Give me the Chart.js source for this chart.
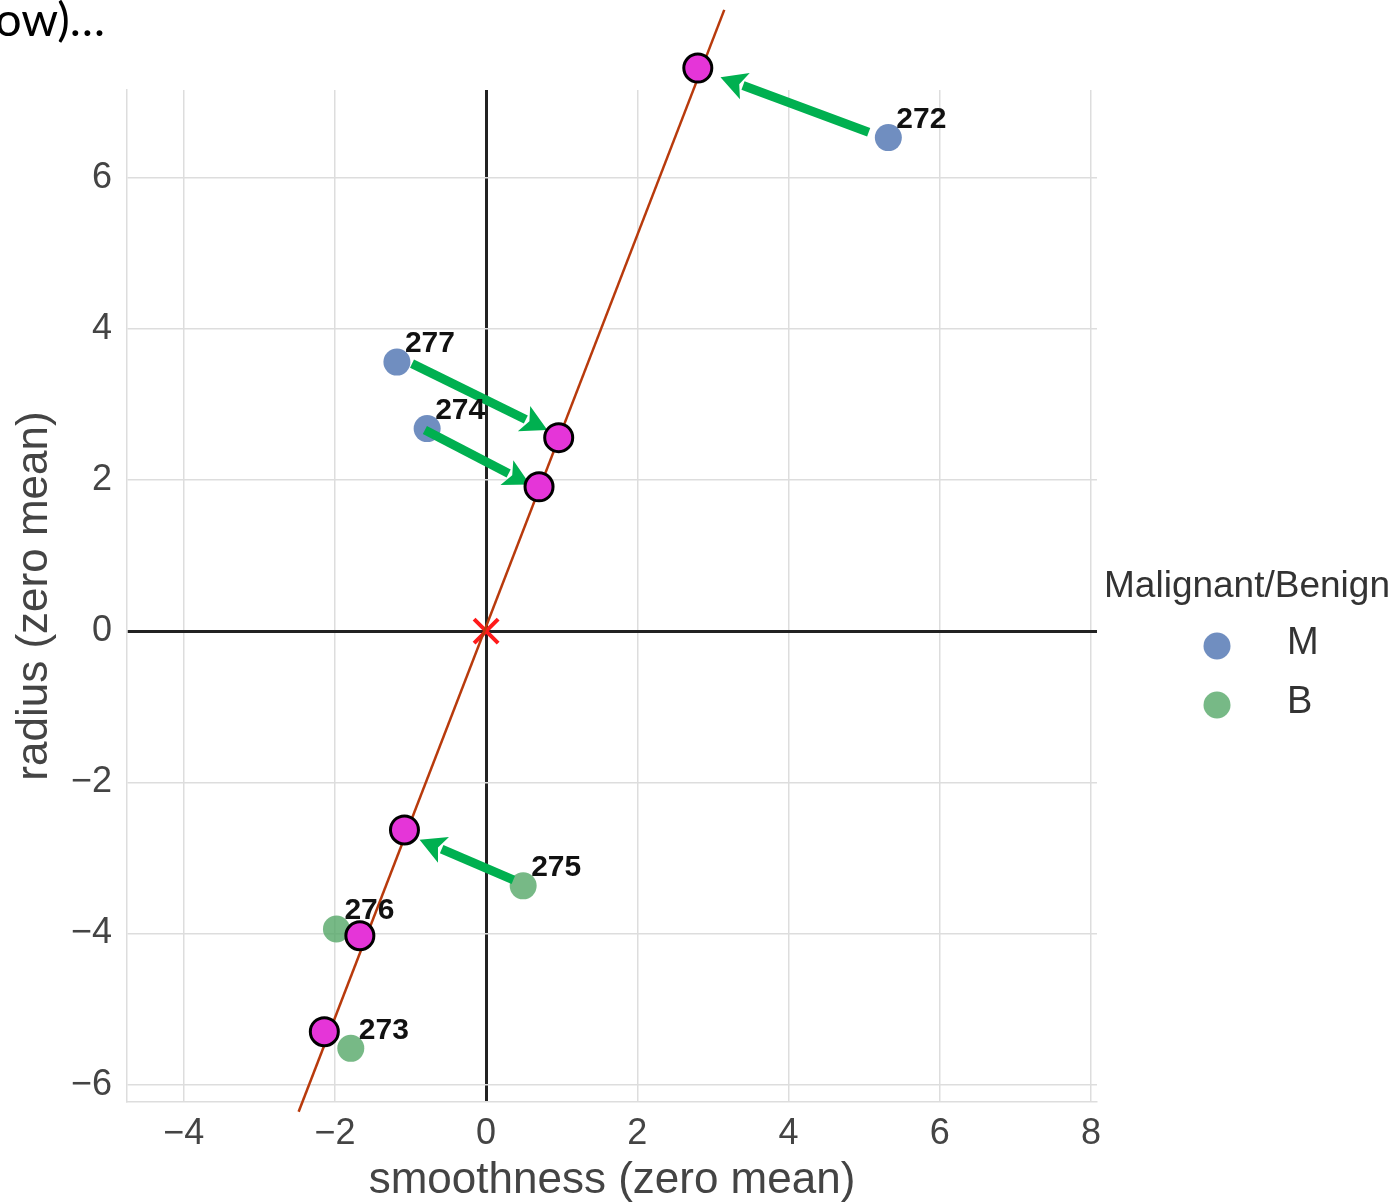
<!DOCTYPE html>
<html>
<head>
<meta charset="utf-8">
<script src="https://cdn.jsdelivr.net/npm/chart.js@4.4.0/dist/chart.umd.min.js"></script>
<style>
html,body{margin:0;padding:0;background:#fff;overflow:hidden;}
#wrap{position:relative;width:1395px;height:1204px;}
#c{position:absolute;left:0;top:0;}
#note{position:absolute;left:-5px;top:-10px;font-family:Lato,"Open Sans",sans-serif;font-size:47px;color:#000;white-space:nowrap;}
</style>
</head>
<body>
<div id="wrap">
<canvas id="c" width="1395" height="1204"></canvas>
<div id="note">ow)…</div>
</div>
<script>
// ---- data ----
const mIds = ['272', '274', '277'];
const mX = [5.32, -0.78, -1.18];
const mY = [6.53, 2.68, 3.56];

const bIds = ['273', '275', '276'];
const bX = [-1.79, 0.49, -1.98];
const bY = [-5.52, -3.37, -3.94];

const projIds = ['272', '273', '274', '275', '276', '277'];
const projX = [2.80, -2.14, 0.70, -1.08, -1.67, 0.96];
const projY = [7.45, -5.30, 1.91, -2.63, -4.03, 2.56];

const lineX = [-2.48, 3.15];
const lineY = [-6.36, 8.22];

const arrowIds = ['272', '277', '274', '275'];
const arrowFromX = [5.06, -0.98, -0.81, 0.36];
const arrowFromY = [6.60, 3.54, 2.66, -3.29];
const arrowToX = [3.10, 0.81, 0.58, -0.88];
const arrowToY = [7.33, 2.66, 1.94, -2.76];

const xTicks = [-4, -2, 0, 2, 4, 6, 8];
const yTicks = [-6, -4, -2, 0, 2, 4, 6];

const legendTitle = 'Malignant/Benign';
const legendLabels = ['M', 'B'];
const xTitle = 'smoothness (zero mean)';
const yTitle = 'radius (zero mean)';

// ---- styles ----
const BLUE = 'rgba(76,114,176,0.8)';
const GREEN = 'rgba(85,168,104,0.8)';
const MAGENTA = '#e535d8';
const ARROW = '#00b050';
const FONT = '"Liberation Sans", Arial, sans-serif';

const toPts = (xs, ys) => xs.map((x, i) => ({x: x, y: ys[i]}));

const labelPlugin = {
  id: 'annotations',
  beforeDatasetDraw(chart, args) {
    if (args.index !== 4) return;
    const ctx = chart.ctx, xs = chart.scales.x, ys = chart.scales.y;
    ctx.save();
    ctx.strokeStyle = ARROW; ctx.fillStyle = ARROW;
    ctx.lineWidth = 9; ctx.lineCap = 'butt';
    for (let i = 0; i < arrowIds.length; i++) {
      const x0 = xs.getPixelForValue(arrowFromX[i]), y0 = ys.getPixelForValue(arrowFromY[i]);
      const x1 = xs.getPixelForValue(arrowToX[i]), y1 = ys.getPixelForValue(arrowToY[i]);
      const dx = x1 - x0, dy = y1 - y0, L = Math.hypot(dx, dy);
      const ux = dx / L, uy = dy / L;
      const hl = 26, hw = 14;
      const bx = x1 - ux * hl, by = y1 - uy * hl;
      ctx.beginPath(); ctx.moveTo(x0, y0); ctx.lineTo(bx + ux * 2, by + uy * 2); ctx.stroke();
      ctx.beginPath();
      ctx.moveTo(x1, y1);
      ctx.lineTo(bx - uy * hw, by + ux * hw);
      ctx.lineTo(bx + ux * 6, by + uy * 6);
      ctx.lineTo(bx + uy * hw, by - ux * hw);
      ctx.closePath(); ctx.fill();
    }
    ctx.restore();
  },
  afterDatasetsDraw(chart) {
    const ctx = chart.ctx, xs = chart.scales.x, ys = chart.scales.y;
    ctx.save();
    ctx.font = 'bold 30px ' + FONT;
    ctx.fillStyle = '#111';
    ctx.textAlign = 'left'; ctx.textBaseline = 'middle';
    const lab = (ids, X, Y) => ids.forEach((id, i) => {
      ctx.fillText(id, xs.getPixelForValue(X[i]) + 8, ys.getPixelForValue(Y[i]) - 18);
    });
    lab(mIds, mX, mY);
    lab(bIds, bX, bY);
    // legend
    ctx.fillStyle = '#333';
    ctx.font = '37px ' + FONT;
    ctx.textAlign = 'center';
    ctx.fillText(legendTitle, 1247, 587);
    const cols = [BLUE, GREEN];
    legendLabels.forEach((t, i) => {
      const y = 646 + i * 59;
      ctx.beginPath(); ctx.arc(1217, y, 13.5, 0, Math.PI * 2);
      ctx.fillStyle = cols[i]; ctx.fill();
      ctx.fillStyle = '#333';
      ctx.font = '38px ' + FONT;
      ctx.textAlign = 'left';
      ctx.fillText(t, 1287, y - 2);
    });
    ctx.restore();
  }
};

const gridColor = c => (c.tick && c.tick.value === 0) ? '#222' : '#dddddd';
const gridWidth = c => (c.tick && c.tick.value === 0) ? 3 : 1.5;
const fmt = v => String(v).replace('-', '\u2212');

new Chart(document.getElementById('c'), {
  type: 'scatter',
  data: {
    datasets: [
      {label: 'M', data: toPts(mX, mY), backgroundColor: BLUE, borderWidth: 0, pointRadius: 13.5, order: 7},
      {label: 'B', data: toPts(bX, bY), backgroundColor: GREEN, borderWidth: 0, pointRadius: 13.5, order: 6},
      {label: 'mean', data: [{x: 0, y: 0}], pointStyle: 'crossRot', pointRadius: 17, borderColor: '#ff1a1a', borderWidth: 4, order: 5},
      {label: 'PC1', type: 'line', data: toPts(lineX, lineY), borderColor: '#b83a0c', borderWidth: 2.5, pointRadius: 0, showLine: true, fill: false, clip: false, order: 4},
      {label: 'proj', data: toPts(projX, projY), backgroundColor: MAGENTA, borderColor: '#000', borderWidth: 3, pointRadius: 14, hoverRadius: 40, clip: false, order: 3}
    ]
  },
  options: {
    responsive: false,
    animation: false,
    events: [],
    layout: {padding: {left: 0, top: 90, right: 298, bottom: 0}},
    plugins: {legend: {display: false}, tooltip: {enabled: false}},
    scales: {
      x: {
        type: 'linear', min: -4.75, max: 8.08,
        afterBuildTicks: s => { s.ticks = xTicks.map(v => ({value: v})); },
        afterFit: s => { s.height = 102; },
        ticks: {callback: fmt, font: {family: FONT, size: 36}, color: '#444', padding: 10, maxRotation: 0, autoSkip: false},
        grid: {color: gridColor, lineWidth: gridWidth, drawTicks: false},
        border: {display: true, color: '#dddddd', width: 1.5},
        title: {display: true, text: xTitle, font: {family: FONT, size: 44}, color: '#444', padding: {top: 0, bottom: -3}}
      },
      y: {
        type: 'linear', min: -6.23, max: 7.16,
        afterBuildTicks: s => { s.ticks = yTicks.map(v => ({value: v})); },
        afterFit: s => { s.width = 127; },
        ticks: {callback: fmt, font: {family: FONT, size: 36}, color: '#444', padding: 15, autoSkip: false},
        grid: {color: gridColor, lineWidth: gridWidth, drawTicks: false},
        border: {display: true, color: '#dddddd', width: 1.5},
        title: {display: true, text: yTitle, font: {family: FONT, size: 44}, color: '#444', padding: {top: 8, bottom: 0}}
      }
    }
  },
  plugins: [labelPlugin]
});
</script>
</body>
</html>
